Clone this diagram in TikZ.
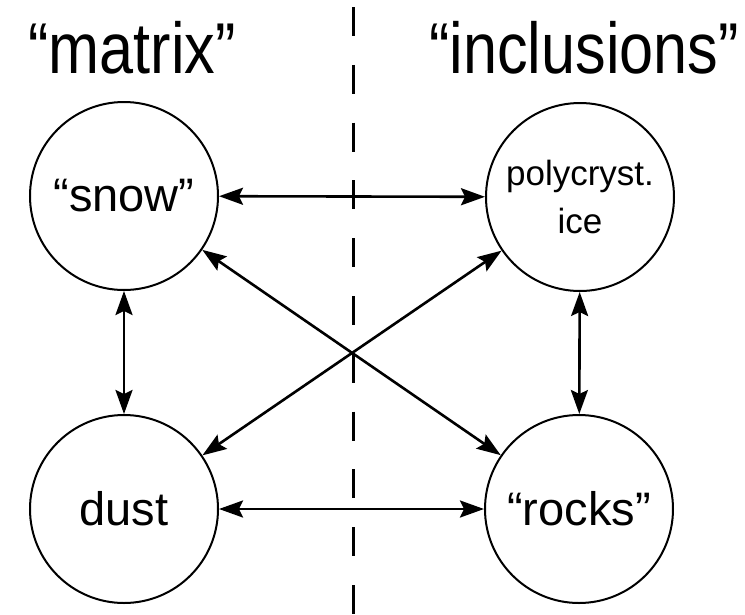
\documentclass[tikz,border=0pt]{standalone}
\usepackage{fontspec}
\setmainfont{Liberation Sans}
\newfontfamily\titlefont[FakeStretch=0.85]{Liberation Sans}
\usetikzlibrary{arrows.meta}
\begin{document}
\begin{tikzpicture}[x=1pt, y=-1pt, line width=2pt,
    title/.style={font=\titlefont\fontsize{72}{80}\selectfont},
    phase/.style={circle, draw, minimum size=188pt, inner sep=0pt, font=\fontsize{47}{56}\selectfont},
    link/.style={<->, >={Stealth[length=24pt, width=17pt, inset=4pt]}, line width=2.6pt}]
  \useasboundingbox (0,0) rectangle (745,614);
  % titles
  \node[title] (matrix) at (132,48) {“matrix”};
  \node[title] (incl) at (584,48) {“inclusions”};
  % divider
  \coordinate (divtop) at (353,7);
  \coordinate (divbot) at (353,614);
  \draw[line width=3pt, dash pattern=on 29pt off 28.8pt] (divtop) -- (divbot);
  % phases
  \node[phase] (snow) at (124,196) {“snow”};
  \node[phase, align=center, font=\fontsize{35}{48}\selectfont] (ice) at (580,197) {polycryst.\\ice};
  \node[phase] (dust) at (124,509) {dust};
  \node[phase] (rocks) at (579,509) {“rocks”};
  % links
  \draw[link] (snow) -- (ice);
  \draw[link] (dust) -- (rocks);
  \draw[link] (snow) -- (dust);
  \draw[link] (ice) -- (rocks);
  \draw[link] (snow) -- (rocks);
  \draw[link] (dust) -- (ice);
\end{tikzpicture}
\end{document}
